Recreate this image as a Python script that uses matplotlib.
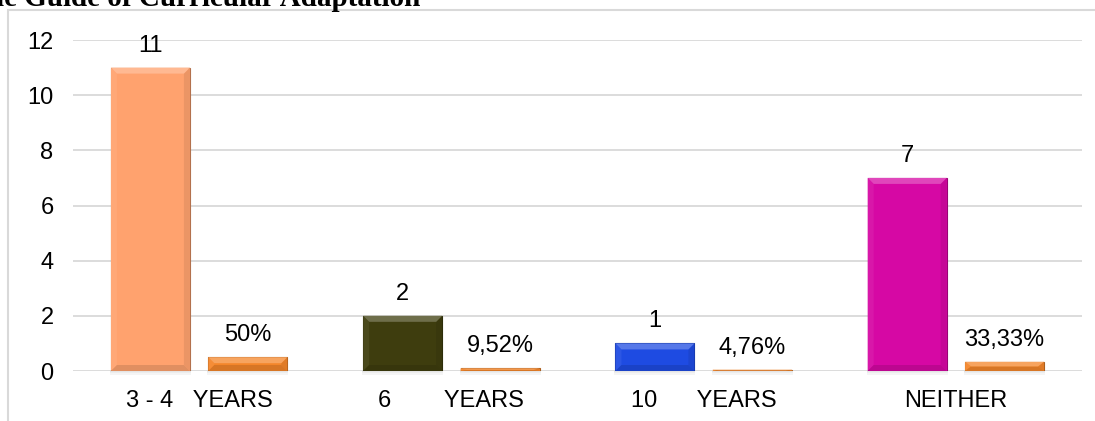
import matplotlib
matplotlib.use("Agg")
import matplotlib.pyplot as plt
from matplotlib.patches import Rectangle, Polygon
import numpy as np

categories = ["3 - 4   YEARS", "6        YEARS", "10      YEARS", "NEITHER"]
counts = [11, 2, 1, 7]
shares = [0.5, 0.0952, 0.0476, 0.3333]
count_colors = ["#FFA26E", "#3E3D0E", "#1E4BE2", "#D608A4"]
share_color = "#F4862A"
yticks = [0, 2, 4, 6, 8, 10, 12]

plt.rcParams["font.family"] = ["Liberation Sans", "DejaVu Sans"]

W, H = 1095, 421
fig = plt.figure(figsize=(W / 100, H / 100), dpi=100)
ax = fig.add_axes([73 / W, 50 / H, 1009 / W, 331 / H])

x = np.arange(len(categories))
bw = 0.313
off = 0.193


def shade(c, f):
    r, g, b = matplotlib.colors.to_rgb(c)
    if f > 0:
        return (r + (1 - r) * f, g + (1 - g) * f, b + (1 - b) * f)
    return (r * (1 + f), g * (1 + f), b * (1 + f))


def bevel(patch, color):
    # soft bevel edges on a bar, sized in pixels
    x0, y0 = patch.get_x(), patch.get_y()
    w, h = patch.get_width(), patch.get_height()
    bx = 6 / 252
    by = min(6 / 27.58, h / 2)
    bxx = min(bx, by * 252 / 27.58) if h < 0.5 else bx
    x1, y1 = x0 + w, y0 + h
    top = [(x0, y1), (x1, y1), (x1 - bxx, y1 - by), (x0 + bxx, y1 - by)]
    bot = [(x0, y0), (x1, y0), (x1 - bxx, y0 + by), (x0 + bxx, y0 + by)]
    left = [(x0, y0), (x0, y1), (x0 + bxx, y1 - by), (x0 + bxx, y0 + by)]
    right = [(x1, y0), (x1, y1), (x1 - bxx, y1 - by), (x1 - bxx, y0 + by)]
    for pts, f in [(left, 0.06), (right, -0.08), (bot, -0.12), (top, 0.25)]:
        ax.add_patch(Polygon(pts, closed=True, facecolor=shade(color, f),
                             edgecolor="none", zorder=3.5))
    # shadow under the bar
    for i, a in enumerate([0.10, 0.07, 0.04]):
        ax.add_patch(Rectangle((x0 - 0.004, -0.04 - 0.05 * i), w + 0.008, 0.05,
                               facecolor="#000000", alpha=a, edgecolor="none",
                               zorder=2.5, clip_on=False))


b1 = ax.bar(x - off, counts, bw, color=count_colors, zorder=3,
            edgecolor=[shade(c, -0.3) for c in count_colors], linewidth=0.8)
b2 = ax.bar(x + off, shares, bw, color=share_color, zorder=3,
            edgecolor=shade(share_color, -0.3), linewidth=0.8)

for p, c in zip(b1.patches, count_colors):
    bevel(p, c)
for p in b2.patches:
    bevel(p, share_color)

for xi, v in zip(x - off, counts):
    ax.annotate(str(v), (xi, v), xytext=(0, 11.5), textcoords="offset points",
                ha="center", va="baseline", fontsize=17, color="#000000")
for xi, v in zip(x + off, shares):
    s = f"{v * 100:.2f}".rstrip("0").rstrip(".").replace(".", ",") + "%"
    ax.annotate(s, (xi, v), xytext=(0, 11.5), textcoords="offset points",
                ha="center", va="baseline", fontsize=17, color="#000000")

ax.set_xlim(-0.5, len(categories) - 0.5)
ax.set_ylim(0, 12)
ax.set_yticks(yticks)
ax.set_xticks(x)
ax.set_xticklabels(categories)
ax.tick_params(axis="both", length=0, labelsize=17)
ax.tick_params(axis="y", pad=14)
ax.tick_params(axis="x", pad=14)
ax.grid(axis="y", color="#D9D9D9", linewidth=1.3, zorder=0)
ax.set_axisbelow(True)
for s in ax.spines.values():
    s.set_visible(False)

# outer chart frame
fig.patches.append(Rectangle((8 / W, -0.2), 1.2, 1.2 - 10 / H, transform=fig.transFigure,
                             facecolor="none", edgecolor="#D9D9D9", linewidth=1.5))

fig.text(-4 / W, 1 - 6 / H, "le Guide of Curricular Adaptation",
         family=["Liberation Serif", "DejaVu Serif"], weight="bold",
         fontsize=21, ha="left", va="baseline")

fig.savefig("out.png", dpi=100)
